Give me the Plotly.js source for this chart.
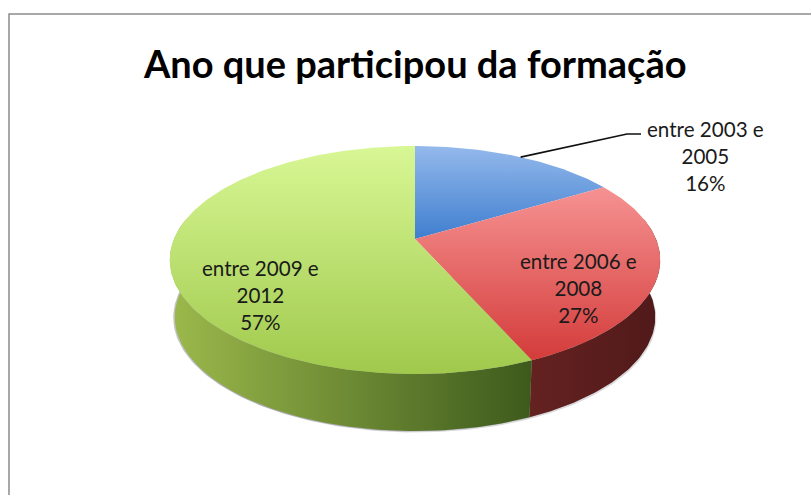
<!DOCTYPE html>
<html>
<head>
<meta charset="utf-8">
<script src="https://cdn.plot.ly/plotly-3.0.1.min.js"></script>
<style>html,body{margin:0;padding:0;background:#fff}#c{width:811px;height:495px}</style>
</head>
<body>
<div id="c"></div>
<script>
const chartTitle = 'Ano que participou da formação';
const categories = ['entre 2003 e<br>2005', 'entre 2006 e<br>2008', 'entre 2009 e<br>2012'];
const values = [16.4, 27.0, 56.6];
const labelX = [705, 578, 260];
const labelY = [156, 288, 295];
const topTop = ['#94b9ec', '#f69292', '#d8f795'];
const topBottom = ['#3f7ecf', '#d33c3a', '#a0c94c'];
const sideLeft = [null, '#642220', '#9cb94c'];
const sideRight = [null, '#51191a', '#3d5a1c'];

// projection of the tilted disc onto the axes
const cx = 415, cy = 239, k = 241, a = 66.1, c = -0.1842, depth = 57, shrink = 0.98;
const project = (deg, lower) => {
  const t = deg * Math.PI / 180, u = Math.sin(t), v = -Math.cos(t), d = 1 + c * v;
  const x = k * u / d, y = (a * v + cy) / d;
  return lower ? [cx + x * shrink, y + depth] : [cx + x, y];
};
const arc = (from, to, lower) => {
  const pts = [], n = Math.max(2, Math.ceil(Math.abs(to - from)));
  for (let i = 0; i <= n; i++) pts.push(project(from + (to - from) * i / n, lower));
  return pts;
};
const poly = (pts, extra) => Object.assign({
  type: 'scatter', mode: 'lines', x: pts.map(p => p[0]), y: pts.map(p => p[1]),
  fill: 'toself', line: {width: 0}, hoverinfo: 'skip', showlegend: false
}, extra);

const total = values.reduce((s, v) => s + v, 0);
const edges = [0];
values.forEach(v => edges.push(edges[edges.length - 1] + v / total * 360));
const widest = Math.acos(c) * 180 / Math.PI;       // right silhouette angle
const visFrom = 180 - widest + 0, visTo = 180 + widest;

const traces = [];
// soft shadow under the rim
const rim = arc(visFrom, visTo, true);
traces.push(poly(rim.map(p => [p[0] + 1, p[1] + 1.5]), {fillcolor: 'rgba(130,130,140,0.3)'}));
traces.push(poly(rim.map(p => [p[0] - 1.5, p[1] + 0.5]), {fillcolor: 'rgba(120,120,130,0.45)'}));
// rim of each visible slice
values.forEach((v, i) => {
  const from = Math.max(edges[i], visFrom), to = Math.min(edges[i + 1], visTo);
  if (to <= from || !sideLeft[i]) return;
  const pts = arc(from, to, false).concat(arc(to, from, true));
  traces.push(poly(pts, {fillgradient: {type: 'horizontal',
    colorscale: [[0, sideLeft[i]], [1, sideRight[i]]]}}));
});
// top faces
values.forEach((v, i) => {
  const pts = [[cx, cy]].concat(arc(edges[i], edges[i + 1], false)).concat([[cx, cy]]);
  traces.push(poly(pts, {fillgradient: {type: 'vertical',
    colorscale: [[0, topBottom[i]], [1, topTop[i]]]}}));
});
// leader line for the first slice
const anchor = project(edges[1] / 2 + 1, false);
traces.push({type: 'scatter', mode: 'lines', x: [anchor[0], 627, 641], y: [anchor[1], 134, 134],
  line: {color: '#111', width: 1.6}, hoverinfo: 'skip', showlegend: false});

const annotations = categories.map((t, i) => ({
  xref: 'x', yref: 'y', x: labelX[i], y: labelY[i], showarrow: false, xanchor: 'center', yanchor: 'middle',
  align: 'center', text: t + '<br>' + Math.round(values[i]) + '%',
  font: {family: 'Lato, sans-serif', size: 20.6, color: '#1a1a1a'}
}));

Plotly.newPlot('c', traces, {
  width: 811, height: 495, margin: {l: 0, r: 0, t: 0, b: 0},
  paper_bgcolor: '#fff', plot_bgcolor: '#fff', showlegend: false,
  title: {text: '<b>' + chartTitle + '</b>', x: 0.512, xanchor: 'center', y: 0.87, yanchor: 'middle',
    font: {family: 'Lato, sans-serif', size: 38, color: '#000'}},
  xaxis: {range: [0, 811], visible: false, fixedrange: true},
  yaxis: {range: [495, 0], visible: false, fixedrange: true},
  annotations,
  shapes: [{type: 'path', xref: 'x', yref: 'y', path: 'M 9 495 L 9 14 L 811 14',
    line: {color: '#8c8c8c', width: 1.5}}]
}, {displayModeBar: false, staticPlot: true});
</script>
</body>
</html>
